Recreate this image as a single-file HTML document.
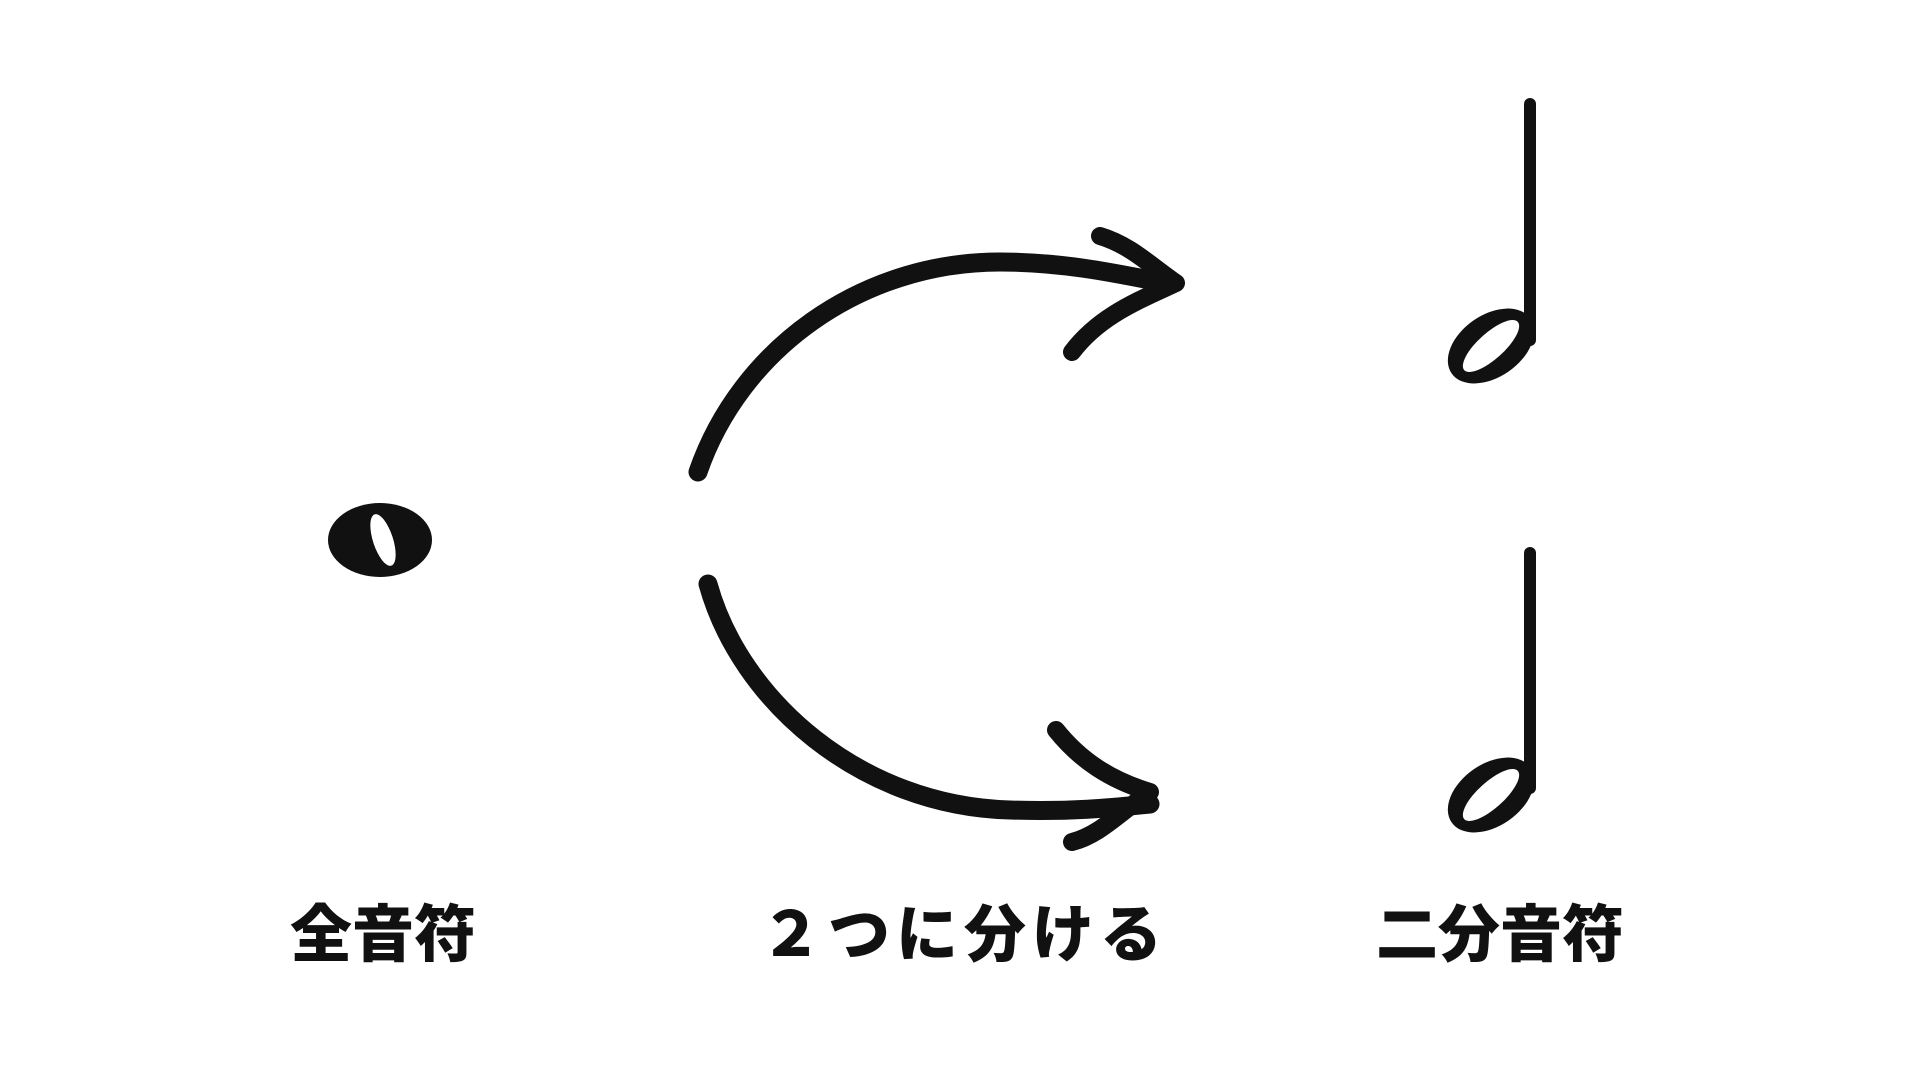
<!DOCTYPE html>
<html><head><meta charset="utf-8"><style>
html,body{margin:0;padding:0;background:#fff;width:1920px;height:1080px;overflow:hidden}
.t{position:absolute;font-family:"Liberation Sans","Noto Sans CJK JP",sans-serif;font-weight:900;font-size:62px;color:#111;white-space:nowrap;transform:translateX(-50%);line-height:1}
</style></head><body>
<svg width="1920" height="1080" style="position:absolute;left:0;top:0">
<g fill="#111">
<ellipse cx="380" cy="540" rx="52" ry="37"/>
<ellipse cx="383" cy="540" rx="10" ry="27" transform="rotate(-18 383 540)" fill="#fff"/>
</g>
<g stroke="#111" fill="none" stroke-linecap="round" stroke-linejoin="round">
<path d="M698 472 C740 350 860 262 1000 262 C1060 262 1110 272 1160 282" stroke-width="19"/>
<path d="M1100 236 C1130 245 1150 265 1176 283 C1140 300 1100 315 1072 352" stroke-width="18"/>
<path d="M708 584 C740 700 860 806 1010 810 C1070 812 1110 808 1150 804" stroke-width="19"/>
<path d="M1056 730 C1080 760 1110 780 1150 792 C1120 812 1100 835 1072 842" stroke-width="18"/>
</g>
<g>
<line x1="1530" y1="104" x2="1530" y2="340" stroke="#111" stroke-width="12" stroke-linecap="round"/>
<ellipse cx="1491" cy="346" rx="48" ry="31" transform="rotate(-35 1491 346)" fill="#111"/>
<ellipse cx="1491" cy="346" rx="36" ry="13" transform="rotate(-42 1491 346)" fill="#fff"/>
<line x1="1530" y1="553" x2="1530" y2="788" stroke="#111" stroke-width="12" stroke-linecap="round"/>
<ellipse cx="1491" cy="795" rx="48" ry="31" transform="rotate(-35 1491 795)" fill="#111"/>
<ellipse cx="1491" cy="795" rx="36" ry="13" transform="rotate(-42 1491 795)" fill="#fff"/>
</g>
</svg>
<div class="t" style="left:383px;top:905px">全音符</div>
<div class="t" style="left:964px;top:905px;letter-spacing:6px">２つに分ける</div>
<div class="t" style="left:1500px;top:905px">二分音符</div>
</body></html>
